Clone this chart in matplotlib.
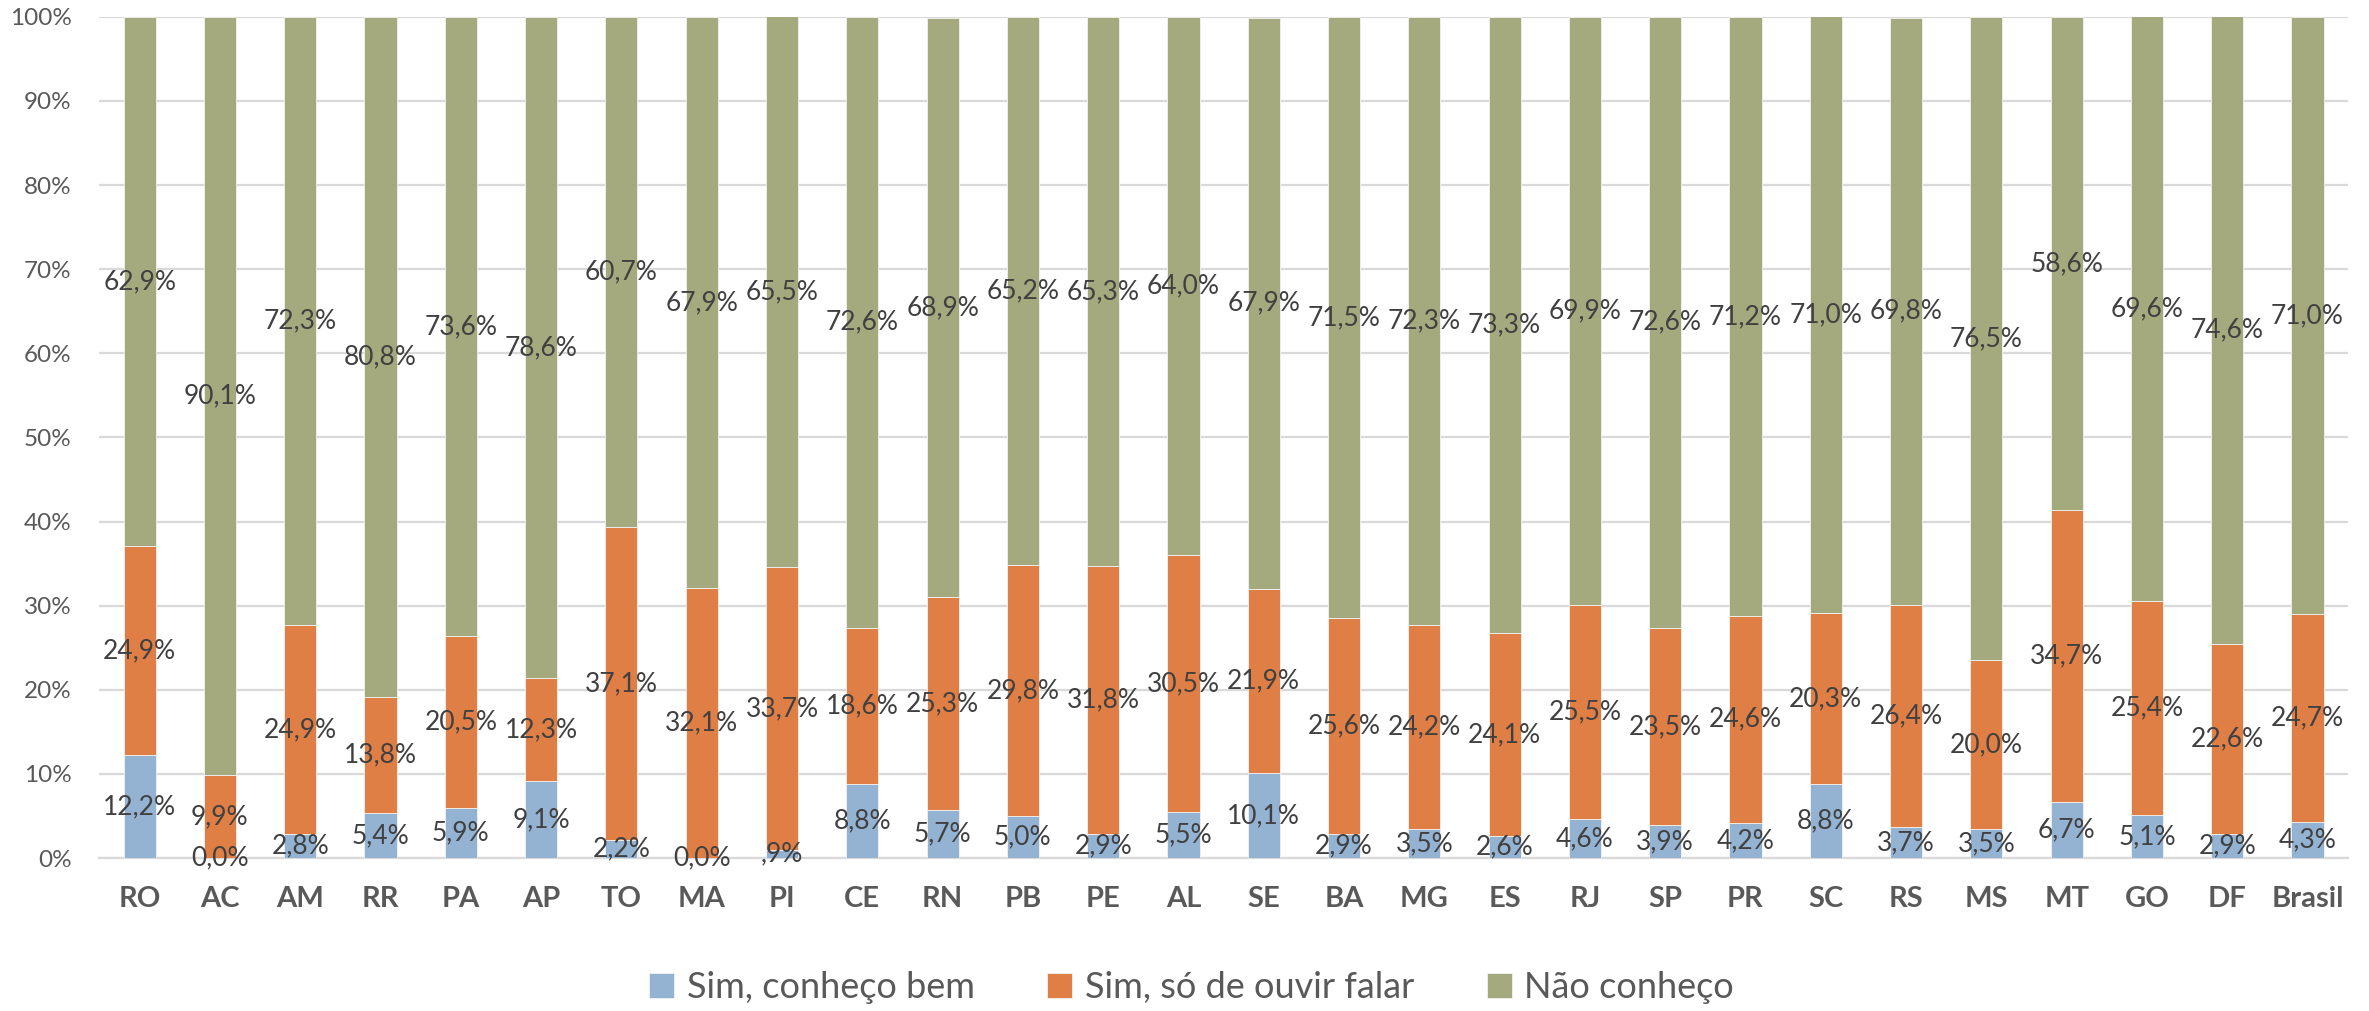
import numpy as np
import matplotlib.pyplot as plt

plt.rcParams['font.family'] = ['Lato', 'DejaVu Sans']

states = ["RO", "AC", "AM", "RR", "PA", "AP", "TO", "MA", "PI", "CE", "RN", "PB", "PE", "AL",
          "SE", "BA", "MG", "ES", "RJ", "SP", "PR", "SC", "RS", "MS", "MT", "GO", "DF", "Brasil"]
conheco_bem = [12.2, 0.0, 2.8, 5.4, 5.9, 9.1, 2.2, 0.0, 0.9, 8.8, 5.7, 5.0, 2.9, 5.5,
               10.1, 2.9, 3.5, 2.6, 4.6, 3.9, 4.2, 8.8, 3.7, 3.5, 6.7, 5.1, 2.9, 4.3]
ouvir_falar = [24.9, 9.9, 24.9, 13.8, 20.5, 12.3, 37.1, 32.1, 33.7, 18.6, 25.3, 29.8, 31.8, 30.5,
               21.9, 25.6, 24.2, 24.1, 25.5, 23.5, 24.6, 20.3, 26.4, 20.0, 34.7, 25.4, 22.6, 24.7]
nao_conheco = [62.9, 90.1, 72.3, 80.8, 73.6, 78.6, 60.7, 67.9, 65.5, 72.6, 68.9, 65.2, 65.3, 64.0,
               67.9, 71.5, 72.3, 73.3, 69.9, 72.6, 71.2, 71.0, 69.8, 76.5, 58.6, 69.6, 74.6, 71.0]

series = [("Sim, conheço bem", conheco_bem, "#94B3D3"),
          ("Sim, só de ouvir falar", ouvir_falar, "#DF7F46"),
          ("Não conheço", nao_conheco, "#A5AA7E")]


def fmt(v):
    s = f"{v:.1f}".replace(".", ",")
    if 0 < v < 1:
        s = s[1:]  # excel drops the leading zero here
    return s + "%"


fig = plt.figure(figsize=(23.69, 10.11), dpi=100)
ax = fig.add_axes([0.042, 0.1513, 0.949, 0.832])

x = np.arange(len(states))
bottom = np.zeros(len(states))
for name, vals, color in series:
    vals = np.array(vals) / 100
    ax.bar(x, vals, 0.4, bottom=bottom, color=color, label=name,
           edgecolor="#f2f2f2", linewidth=0.6, zorder=3)
    for xi, b, v in zip(x, bottom, vals):
        ax.text(xi, b + v / 2, fmt(v * 100), ha="center", va="center",
                fontsize=19, color="#404040", zorder=4)
    bottom += vals

ax.set_xlim(-0.5, len(states) - 0.5)
ax.set_ylim(0, 1)
ax.set_yticks(np.arange(0, 1.01, 0.1))
ax.set_yticklabels([f"{int(round(t * 100))}%" for t in np.arange(0, 1.01, 0.1)],
                   fontsize=17.5, color="#595959")
ax.set_xticks(x)
ax.set_xticklabels(states, fontsize=21, fontweight="bold", color="#595959")
ax.tick_params(axis="both", length=0)
ax.tick_params(axis="y", pad=20)
ax.tick_params(axis="x", pad=20)
ax.grid(axis="y", color="#D9D9D9", linewidth=1.6, zorder=0)
for side in ["top", "right", "left"]:
    ax.spines[side].set_visible(False)
ax.spines["bottom"].set_color("#D9D9D9")
ax.spines["bottom"].set_linewidth(1.6)

fig.legend(loc="center", bbox_to_anchor=(0.503, 0.023), ncol=3, frameon=False,
           fontsize=26, handlelength=0.7, handleheight=0.7, handletextpad=0.35,
           columnspacing=2.0, labelcolor="#595959")

fig.savefig("out.png", dpi=100)
